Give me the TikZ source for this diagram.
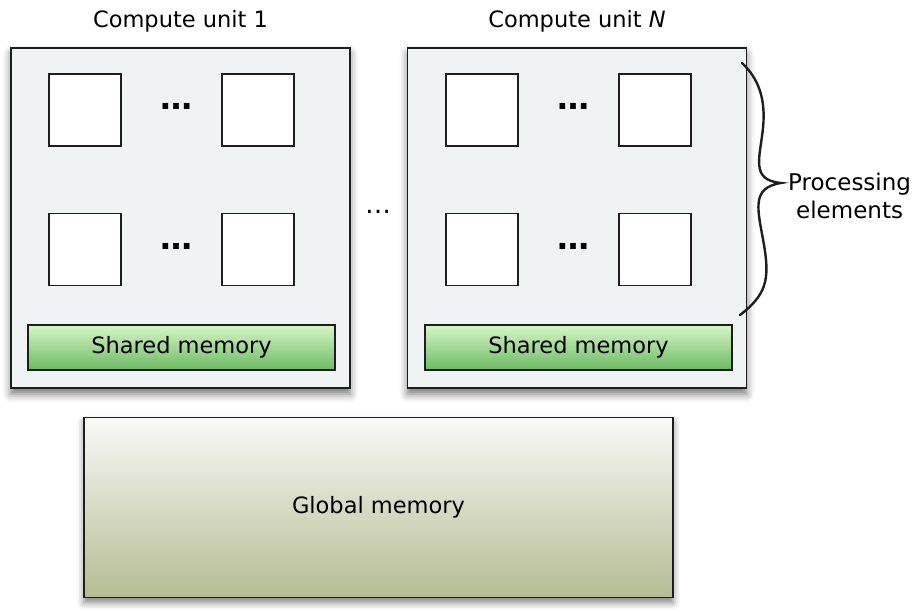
\documentclass[tikz,border=0pt]{standalone}
\usepackage{fontspec}
\setmainfont{DejaVu Sans}
\usetikzlibrary{shadows.blur}
\definecolor{cufill}{RGB}{240,243,244}
\definecolor{edge}{RGB}{30,30,30}
\definecolor{smtop}{RGB}{214,245,200}
\definecolor{smbot}{RGB}{108,186,98}
\definecolor{gmtop}{RGB}{249,249,247}
\definecolor{gmbot}{RGB}{180,188,146}
\tikzset{
  cubox/.style={draw=edge, line width=1.6pt, fill=cufill, minimum width=339pt, minimum height=340pt, inner sep=0pt,
    blur shadow={shadow xshift=0pt, shadow yshift=-6pt, shadow blur radius=8pt, shadow opacity=55}},
  pebox/.style={draw=edge, line width=1.4pt, fill=white, minimum width=72pt, minimum height=72pt, inner sep=0pt},
  smbox/.style={draw=edge, line width=1.4pt, top color=smtop, bottom color=smbot, minimum width=307pt, minimum height=45pt, inner sep=0pt, font=\fontsize{22.5}{27}\selectfont},
  gmbox/.style={draw=edge, line width=1.6pt, top color=gmtop, bottom color=gmbot, minimum width=589pt, minimum height=180pt, inner sep=0pt, font=\fontsize{22.5}{27}\selectfont,
    blur shadow={shadow xshift=0pt, shadow yshift=-5pt, shadow blur radius=7pt, shadow opacity=50}},
  title/.style={font=\fontsize{22.5}{27}\selectfont, inner sep=0pt},
  bigdots/.style={font=\fontsize{32}{36}\selectfont\bfseries, inner sep=0pt, anchor=base},
  smalldots/.style={font=\fontsize{26}{30}\selectfont, inner sep=0pt, anchor=base},
}
\begin{document}
\begin{tikzpicture}[x=1pt,y=-1pt]
\useasboundingbox (0,0) rectangle (918,612);
% compute units
\node[cubox] (cu1) at (180.5,218) {};
\node[cubox] (cuN) at (577,218) {};
\node[title] (t1) at (180.5,21) {Compute unit 1};
\node[title] (tN) at (577,21) {Compute unit \textit{N}};
% PEs unit 1
\node[pebox] (a11) at (85,110) {};
\node[pebox] (a12) at (258,110) {};
\node[pebox] (a21) at (85,249.5) {};
\node[pebox] (a22) at (258,249.5) {};
\node[bigdots] (d1a) at (176,110) {…};
\node[bigdots] (d1b) at (176,250) {…};
\node[smbox] (sm1) at (181.5,347.5) {Shared memory};
% PEs unit N
\node[pebox] (b11) at (482,110) {};
\node[pebox] (b12) at (655,110) {};
\node[pebox] (b21) at (482,249.5) {};
\node[pebox] (b22) at (655,249.5) {};
\node[bigdots] (dNa) at (573,110) {…};
\node[bigdots] (dNb) at (573,250) {…};
\node[smbox] (smN) at (578.5,347.5) {Shared memory};
% middle dots
\node[smalldots] (mid) at (378,214) {…};
% global memory
\node[gmbox] (gm) at (378.5,507.5) {Global memory};
% brace
\coordinate (btop) at (742,63);
\coordinate (btip) at (781,183);
\coordinate (bbot) at (740,315);
\draw[line width=2.4pt, edge, line cap=round]
  (btop) .. controls (758,78) and (766,98) .. (763,128)
  .. controls (760,158) and (750,180) .. (btip)
  .. controls (750,188) and (758,210) .. (764,245)
  .. controls (770,280) and (766,295) .. (bbot);
\node[font=\fontsize{23}{28}\selectfont, align=center, inner sep=0pt, anchor=west] (pe) at (788,196) {Processing\\elements};
\end{tikzpicture}
\end{document}
